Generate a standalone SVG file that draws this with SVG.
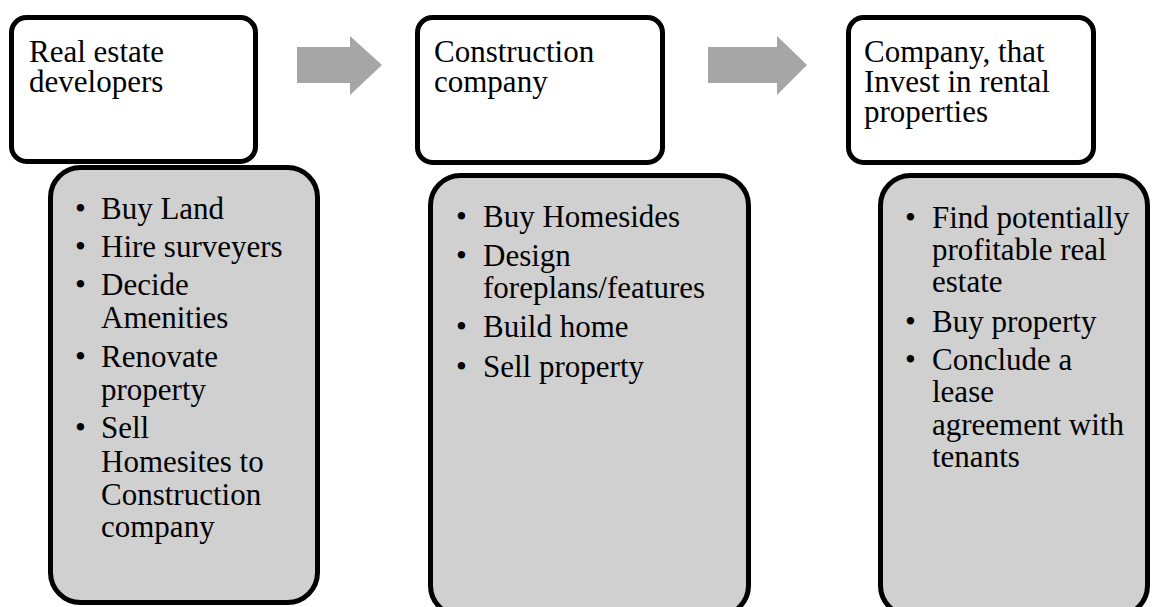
<svg xmlns="http://www.w3.org/2000/svg" width="1152" height="607" viewBox="0 0 1152 607">
<style>
.title{fill:#fff;stroke:#000;stroke-width:5}
.detail{fill:#d0d0d0;stroke:#000;stroke-width:5}
.arrow{fill:#a6a6a6;stroke:none}
text{font-family:"Liberation Serif","Times New Roman",serif;font-size:31px;fill:#000}
</style>
<rect width="1152" height="607" fill="#fff"/>
<g id="connectors">
<polygon class="arrow" points="297,47 350,47 350,36 382,65 350,95 350,83 297,83"/>
<polygon class="arrow" points="708,47 777,47 777,36 807,65 777,95 777,83 708,83"/>
</g>
<g id="detail1">
<rect class="detail" x="50.5" y="167.5" width="267" height="435" rx="30"/>
<text>
<tspan x="75" y="219">•</tspan><tspan x="101" y="219">Buy Land</tspan>
<tspan x="75" y="257">•</tspan><tspan x="101" y="257">Hire surveyers</tspan>
<tspan x="75" y="295">•</tspan><tspan x="101" y="295">Decide</tspan>
<tspan x="101" y="328">Amenities</tspan>
<tspan x="75" y="367">•</tspan><tspan x="101" y="367">Renovate</tspan>
<tspan x="101" y="400">property</tspan>
<tspan x="75" y="438">•</tspan><tspan x="101" y="438">Sell</tspan>
<tspan x="101" y="472">Homesites to</tspan>
<tspan x="101" y="505">Construction</tspan>
<tspan x="101" y="537">company</tspan>
</text>
</g>
<g id="detail2">
<rect class="detail" x="430.5" y="175.5" width="318" height="440" rx="30"/>
<text>
<tspan x="456" y="227">•</tspan><tspan x="483" y="227">Buy Homesides</tspan>
<tspan x="456" y="266">•</tspan><tspan x="483" y="266">Design</tspan>
<tspan x="483" y="298">foreplans/features</tspan>
<tspan x="456" y="337">•</tspan><tspan x="483" y="337">Build home</tspan>
<tspan x="456" y="377">•</tspan><tspan x="483" y="377">Sell property</tspan>
</text>
</g>
<g id="detail3">
<rect class="detail" x="880.5" y="175.5" width="267" height="440" rx="30"/>
<text>
<tspan x="905" y="228">•</tspan><tspan x="932" y="228">Find potentially</tspan>
<tspan x="932" y="260">profitable real</tspan>
<tspan x="932" y="292">estate</tspan>
<tspan x="905" y="332">•</tspan><tspan x="932" y="332">Buy property</tspan>
<tspan x="905" y="370">•</tspan><tspan x="932" y="370">Conclude a</tspan>
<tspan x="932" y="402">lease</tspan>
<tspan x="932" y="435">agreement with</tspan>
<tspan x="932" y="467">tenants</tspan>
</text>
</g>
<g id="title1">
<rect class="title" x="11.5" y="17.5" width="244" height="144" rx="15"/>
<text><tspan x="29" y="62">Real estate</tspan><tspan x="29" y="92">developers</tspan></text>
</g>
<g id="title2">
<rect class="title" x="417.5" y="17.5" width="245" height="145" rx="15"/>
<text><tspan x="434" y="62">Construction</tspan><tspan x="434" y="92">company</tspan></text>
</g>
<g id="title3">
<rect class="title" x="848.5" y="17.5" width="245" height="145" rx="15"/>
<text><tspan x="864" y="62">Company, that</tspan><tspan x="864" y="92">Invest in rental</tspan><tspan x="864" y="122">properties</tspan></text>
</g>
</svg>
